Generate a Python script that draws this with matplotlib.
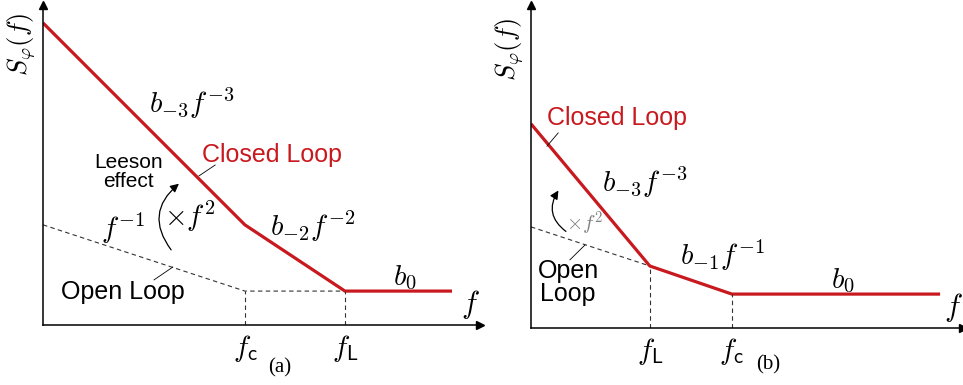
import matplotlib
matplotlib.use("Agg")
import matplotlib.pyplot as plt
from matplotlib.patches import FancyArrowPatch

plt.rcParams["mathtext.fontset"] = "cm"
plt.rcParams["font.family"] = ["Liberation Sans", "DejaVu Sans"]

RED = "#c8191e"

# (a) closed loop f^-3 -> f^-2 -> flat, open loop f^-1 -> flat
a_closed_x = [0, 4.62, 6.91, 9.36]
a_closed_y = [9.44, 3.13, 1.06, 1.06]
a_open_x = [0, 4.62, 6.91]
a_open_y = [3.13, 1.06, 1.06]
a_ticks = [4.62, 6.91]
a_tick_labels = [r"$f_{\mathsf{c}}$", r"$f_{\mathsf{L}}$"]

# (b) closed loop f^-3 -> f^-1 -> flat, open loop f^-1
b_closed_x = [0, 2.75, 4.65, 9.47]
b_closed_y = [6.32, 1.92, 1.05, 1.05]
b_open_x = [0, 2.75]
b_open_y = [3.13, 1.92]
b_ticks = [2.75, 4.65]
b_tick_labels = [r"$f_{\mathsf{L}}$", r"$f_{\mathsf{c}}$"]

W, H = 963, 385
fig = plt.figure(figsize=(W / 100, H / 100), dpi=100)


def make_axes(left, right, bottom, top):
    ax = fig.add_axes([left / W, (H - bottom) / H, (right - left) / W, (bottom - top) / H])
    ax.set_xlim(0, 10)
    ax.set_ylim(0, 10)
    for s in ("top", "right"):
        ax.spines[s].set_visible(False)
    for s in ("left", "bottom"):
        ax.spines[s].set_linewidth(1.1)
    ax.set_yticks([])
    ax.tick_params(axis="x", length=0, pad=6, labelsize=21)
    ax.plot(1, 0, ">k", ms=6, transform=ax.transAxes, clip_on=False)
    ax.plot(0, 1, "^k", ms=6, transform=ax.transAxes, clip_on=False)
    ax.patch.set_visible(False)
    return ax


def curve(ax, start, end, color="k"):
    ax.add_patch(FancyArrowPatch(start, end, connectionstyle="arc3,rad=-0.5",
                                 arrowstyle="-|>,head_length=5,head_width=2.5",
                                 color=color, lw=0.9))


def draw_panel(ax, cx, cy, ox, oy, ticks, tick_labels):
    ax.plot(ox, oy, "--", color="#333333", lw=0.8, dashes=(4, 3))
    ax.plot(cx, cy, color=RED, lw=2.3, solid_capstyle="butt")
    # dashed drop lines from each corner frequency down to the axis
    tops = []
    for t in ticks:
        levels = []
        if t in cx:
            levels.append(cy[cx.index(t)])
        if t in ox:
            levels.append(oy[ox.index(t)])
        tops.append(min(levels))
    ax.vlines(ticks, 0, tops, colors="#333333", linestyles=(0, (4, 3)), lw=0.8)
    ax.set_xticks(ticks, tick_labels)


# panel (a)
ax1 = make_axes(43, 480, 325, 5)
draw_panel(ax1, a_closed_x, a_closed_y, a_open_x, a_open_y, a_ticks, a_tick_labels)
ax1.text(-0.5, 8.75, r"$S_\varphi(f)$", rotation=90, fontsize=19, ha="center", va="center")
ax1.text(3.41, 6.94, r"$b_{-3}f^{-3}$", fontsize=21, ha="center", va="center")
ax1.text(5.24, 5.31, "Closed Loop", color=RED, fontsize=18, ha="center", va="center")
ax1.text(1.95, 4.78, "Leeson\neffect", fontsize=15, ha="center", va="center",
         linespacing=0.95)
ax1.text(1.83, 3.03, r"$f^{-1}$", fontsize=21, ha="center", va="center")
ax1.text(3.36, 3.38, r"$\times f^2$", fontsize=21, ha="center", va="center")
ax1.text(6.16, 3.09, r"$b_{-2}f^{-2}$", fontsize=21, ha="center", va="center")
ax1.text(8.28, 1.47, r"$b_0$", fontsize=21, ha="center", va="center")
ax1.text(1.83, 1.03, "Open Loop", fontsize=18, ha="center", va="center")
ax1.text(9.77, 0.63, r"$f$", fontsize=22, ha="center", va="center")
ax1.text(5.42, -1.34, "(a)", fontsize=15, family="Liberation Serif", ha="center", va="center")
ax1.plot([3.94, 3.57], [5.0, 4.66], color="k", lw=0.6)
ax1.plot([2.97, 2.54], [1.81, 1.41], color="k", lw=0.6)
curve(ax1, (2.97, 2.28), (3.16, 4.47))

# panel (b)
ax2 = make_axes(531, 963, 328, 5)
draw_panel(ax2, b_closed_x, b_closed_y, b_open_x, b_open_y, b_ticks, b_tick_labels)
ax2.text(-0.49, 8.61, r"$S_\varphi(f)$", rotation=90, fontsize=19, ha="center", va="center")
ax2.text(1.99, 6.50, "Closed Loop", color=RED, fontsize=18, ha="center", va="center")
ax2.text(2.64, 4.52, r"$b_{-3}f^{-3}$", fontsize=21, ha="center", va="center")
ax2.text(1.25, 3.22, r"$\times f^2$", fontsize=15, color="#808080", ha="center", va="center")
ax2.text(4.42, 2.26, r"$b_{-1}f^{-1}$", fontsize=21, ha="center", va="center")
ax2.text(7.22, 1.46, r"$b_0$", fontsize=21, ha="center", va="center")
ax2.text(0.86, 1.42, "Open\nLoop", fontsize=18, ha="center", va="center", linespacing=0.95)
ax2.text(9.78, 0.65, r"$f$", fontsize=22, ha="center", va="center")
ax2.text(5.49, -1.15, "(b)", fontsize=15, family="Liberation Serif", ha="center", va="center")
ax2.plot([0.63, 0.37], [6.04, 5.63], color="k", lw=0.6)
ax2.plot([1.25, 0.90], [2.57, 2.11], color="k", lw=0.6)
curve(ax2, (0.86, 2.94), (0.67, 4.33))

fig.savefig("out.png", dpi=100)
